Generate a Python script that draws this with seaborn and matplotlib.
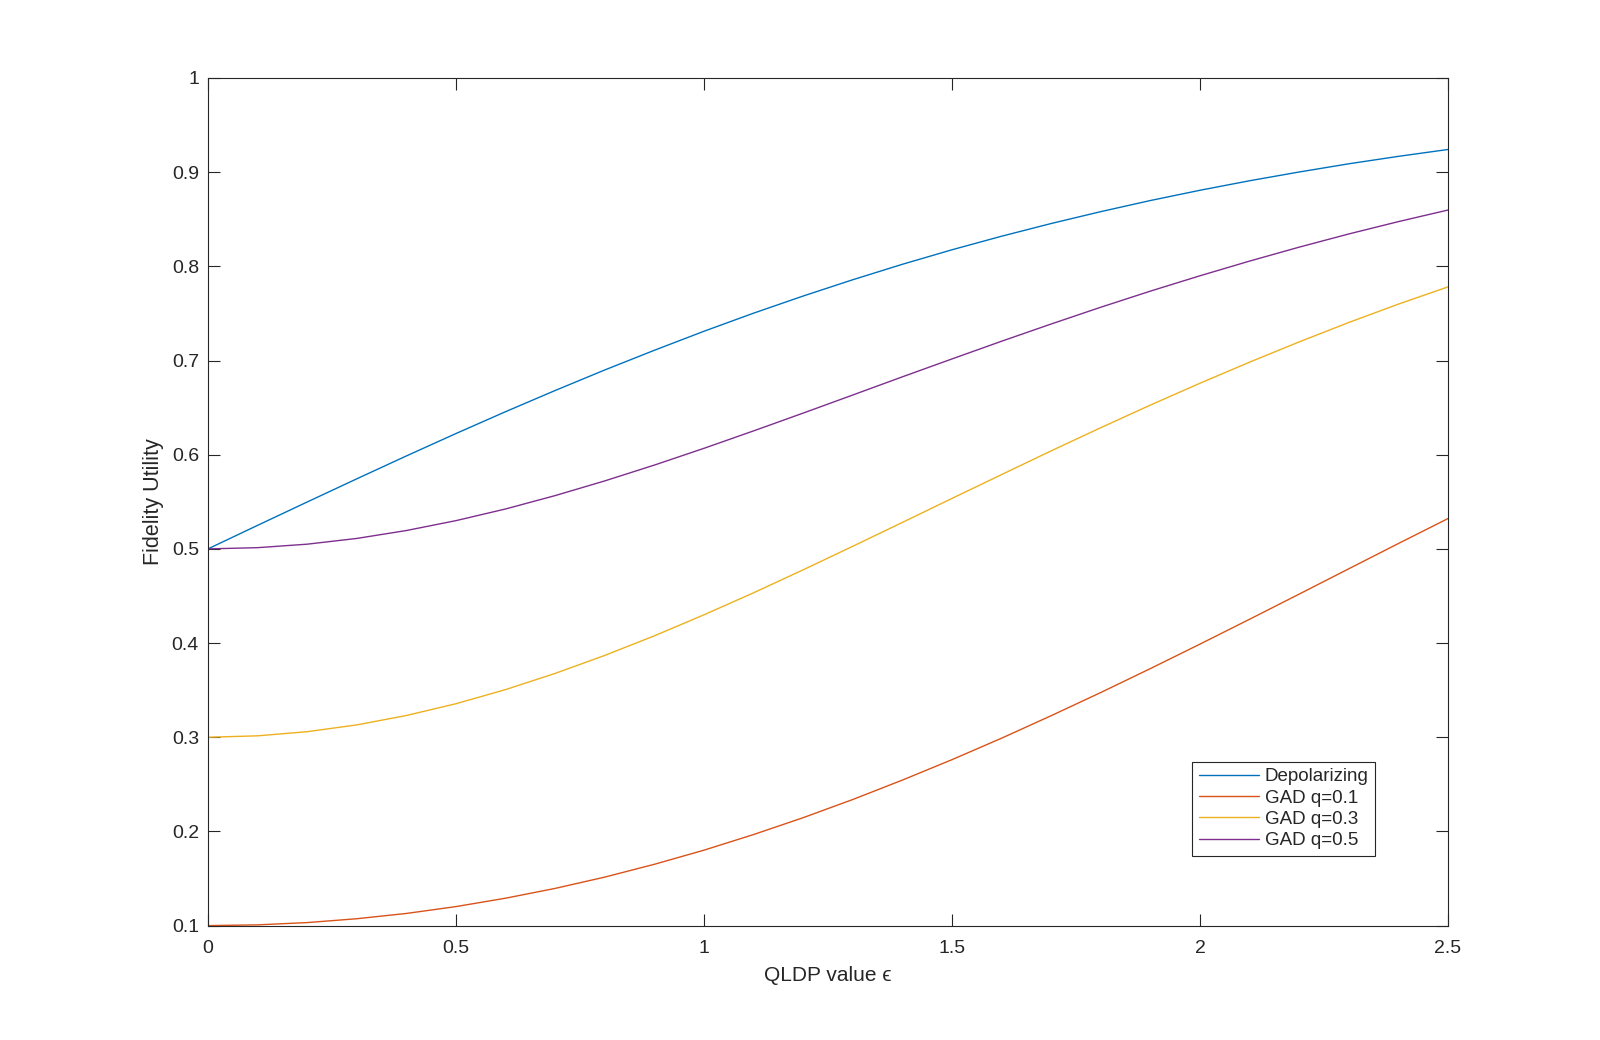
import numpy as np
import pandas as pd
import seaborn as sns
import matplotlib.pyplot as plt
from matplotlib.ticker import FuncFormatter

# values
eps = [0.0, 0.1, 0.2, 0.3, 0.4, 0.5, 0.6, 0.7, 0.8, 0.9, 1.0, 1.1, 1.2,
       1.3, 1.4, 1.5, 1.6, 1.7, 1.8, 1.9, 2.0, 2.1, 2.2, 2.3, 2.4, 2.5]

depol = [0.5000, 0.5250, 0.5498, 0.5744, 0.5987, 0.6225, 0.6457, 0.6682, 0.6900,
         0.7109, 0.7311, 0.7503, 0.7685, 0.7858, 0.8022, 0.8176, 0.8320, 0.8455,
         0.8581, 0.8699, 0.8808, 0.8909, 0.9002, 0.9089, 0.9168, 0.9241]
gad_q01 = [0.1000, 0.1008, 0.1032, 0.1073, 0.1129, 0.1202, 0.1291, 0.1395, 0.1515,
           0.1651, 0.1801, 0.1967, 0.2146, 0.2339, 0.2545, 0.2762, 0.2990, 0.3229,
           0.3475, 0.3729, 0.3989, 0.4253, 0.4520, 0.4789, 0.5057, 0.5322]
gad_q03 = [0.3000, 0.3015, 0.3059, 0.3131, 0.3231, 0.3356, 0.3506, 0.3678, 0.3869,
           0.4077, 0.4300, 0.4534, 0.4778, 0.5028, 0.5281, 0.5536, 0.5789, 0.6041,
           0.6287, 0.6527, 0.6759, 0.6983, 0.7198, 0.7404, 0.7599, 0.7782]
gad_q05 = [0.5000, 0.5013, 0.5050, 0.5111, 0.5195, 0.5300, 0.5424, 0.5566, 0.5722,
           0.5890, 0.6068, 0.6253, 0.6442, 0.6634, 0.6827, 0.7017, 0.7205, 0.7388,
           0.7566, 0.7737, 0.7900, 0.8056, 0.8204, 0.8344, 0.8475, 0.8598]

series = ["Depolarizing", "GAD q=0.1", "GAD q=0.3", "GAD q=0.5"]
colors = ["#0072BD", "#D95319", "#EDB120", "#7E2F8E"]

df = pd.concat([
    pd.DataFrame({"eps": eps, "F": vals, "series": name})
    for name, vals in zip(series, [depol, gad_q01, gad_q03, gad_q05])
])

sns.set_style("white")
plt.rcParams['font.family'] = ['Liberation Sans', 'DejaVu Sans']

fig = plt.figure(figsize=(16, 10.4), dpi=100)
ax = fig.add_axes([0.13, 0.11, 0.775, 0.815])

sns.lineplot(data=df, x="eps", y="F", hue="series", hue_order=series,
             palette=colors, linewidth=1.0, ax=ax, sort=False)

ax.set_xlim(0, 2.5)
ax.set_ylim(0.1, 1.0)
ax.set_xticks([0, 0.5, 1, 1.5, 2, 2.5])
ax.set_yticks(np.round(np.arange(0.1, 1.01, 0.1), 1))
fmt = FuncFormatter(lambda v, p: "%g" % v)
ax.xaxis.set_major_formatter(fmt)
ax.yaxis.set_major_formatter(fmt)

ax.tick_params(direction="in", length=8.6, width=0.8, colors="#262626",
               labelsize=14, top=True, right=True, bottom=True, left=True)
ax.tick_params(axis="y", pad=6.5)
ax.tick_params(axis="x", pad=10.5)
for s in ax.spines.values():
    s.set_visible(True)
    s.set_color("#262626")
    s.set_linewidth(0.8)

ax.set_xlabel("QLDP value \u03f5", fontsize=15, color="#262626", labelpad=6)
ax.set_ylabel("Fidelity Utility", fontsize=15.5, color="#262626", labelpad=5.5)

handles, labels = ax.get_legend_handles_labels()
leg = ax.legend(handles, labels, loc="lower left", bbox_to_anchor=(0.7935, 0.0825),
                borderaxespad=0, fontsize=13.5, handlelength=3.2, handletextpad=0.32,
                labelspacing=0.22, borderpad=0.35, fancybox=False, framealpha=1,
                edgecolor="#262626")
leg.get_frame().set_linewidth(0.8)
for h in leg.get_lines():
    h.set_linewidth(1.0)

fig.savefig("out.png", dpi=100, facecolor="white")
